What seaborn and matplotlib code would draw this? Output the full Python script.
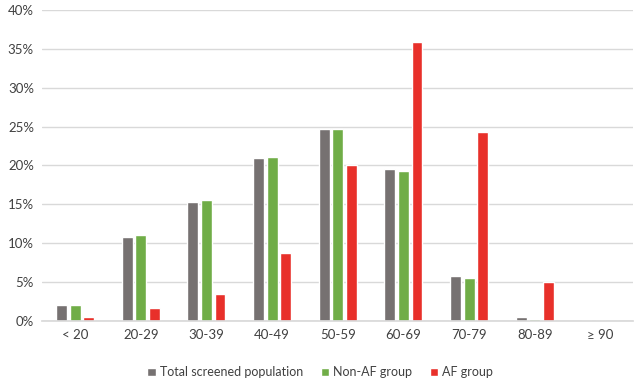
import numpy as np
import pandas as pd
import matplotlib
matplotlib.use("Agg")
import matplotlib.pyplot as plt
import seaborn as sns

# age groups and share (%) of each group
age_groups = ["< 20", "20-29", "30-39", "40-49", "50-59", "60-69", "70-79", "80-89", "\u2265 90"]
total_pop = [2.1, 10.8, 15.3, 20.9, 24.7, 19.6, 5.8, 0.5, 0.0]
non_af = [2.1, 11.0, 15.5, 21.1, 24.7, 19.3, 5.5, 0.3, 0.0]
af_group = [0.5, 1.7, 3.4, 8.7, 20.1, 35.9, 24.3, 5.0, 0.0]

series_names = ["Total screened population", "Non-AF group", "AF group"]
colors = ["#767171", "#70AD47", "#E8302A"]

df = pd.DataFrame({
    "age": age_groups * 3,
    "value": total_pop + non_af + af_group,
    "group": np.repeat(series_names, len(age_groups)),
})

sns.set_theme(style="white")
plt.rcParams["font.family"] = ["Lato", "DejaVu Sans"]

fig = plt.figure(figsize=(6.41, 3.82), dpi=100)
ax = fig.add_axes([0.066, 0.16, 0.922, 0.814])

sns.barplot(data=df, x="age", y="value", hue="group", palette=colors,
            width=0.62, gap=0.2, ax=ax, saturation=1)

ax.set_ylim(0, 40)
ax.set_yticks(np.arange(0, 41, 5))
ax.set_yticklabels([f"{v}%" for v in range(0, 41, 5)])
ax.yaxis.grid(True, color="#D9D9D9", linewidth=1)
ax.set_axisbelow(True)
for s in ["top", "right", "left"]:
    ax.spines[s].set_visible(False)
ax.spines["bottom"].set_color("#D9D9D9")
ax.set_xlabel("")
ax.set_ylabel("")
ax.tick_params(axis="both", length=0, labelsize=9.5, colors="#404040", pad=6)
ax.set_xlim(-0.5, len(age_groups) - 0.5)

ax.legend(loc="upper center", bbox_to_anchor=(0.47, -0.11), ncol=3, frameon=False,
          fontsize=9, handlelength=0.7, handleheight=0.7, handletextpad=0.3,
          columnspacing=1.4, labelcolor="#404040")

fig.savefig("out.png", dpi=100)
